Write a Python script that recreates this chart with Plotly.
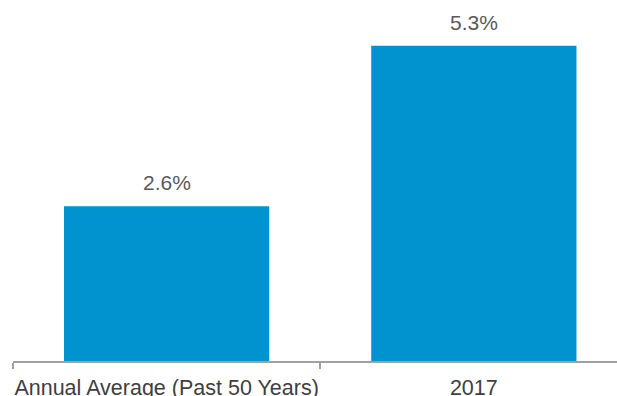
import plotly.graph_objects as go

categories = ["Annual Average (Past 50 Years)", "2017"]
values = [2.6, 5.3]
value_labels = ["2.6%", "5.3%"]

BAR_COLOR = "#0093D0"
AXIS_COLOR = "#a0a0a0"
TEXT_COLOR = "#404040"
FONT = "Liberation Sans, Arial, sans-serif"

fig = go.Figure()
fig.add_trace(go.Bar(
    x=categories,
    y=values,
    marker=dict(color=BAR_COLOR, line=dict(width=0)),
    hoverinfo="skip",
))

for i, (v, t) in enumerate(zip(values, value_labels)):
    fig.add_annotation(
        x=i, y=v, xref="x", yref="y", text=t, showarrow=False,
        yanchor="bottom", yshift=10,
        font=dict(family=FONT, size=21, color="#595959"),
    )

fig.update_layout(
    width=617, height=396,
    margin=dict(l=13, r=0, t=0, b=35, autoexpand=False),
    paper_bgcolor="white", plot_bgcolor="white",
    bargap=0.332,
    showlegend=False,
    font=dict(family=FONT, size=21, color=TEXT_COLOR),
)
fig.update_xaxes(
    type="category",
    range=[-0.5, 1.466],
    showline=True, linecolor=AXIS_COLOR, linewidth=1.5,
    ticks="outside", tickson="boundaries", ticklen=6, tickcolor=AXIS_COLOR, tickwidth=1.5,
    ticklabelstandoff=6, tickangle=0, automargin=False,
    showgrid=False, zeroline=False,
    tickfont=dict(family=FONT, size=21.5, color=TEXT_COLOR),
)
fig.update_yaxes(
    range=[0, 6.07],
    visible=False, showgrid=False, zeroline=False, automargin=False,
)

fig.write_html(
    "out.html",
    config={"displayModeBar": False},
    post_script="document.body.style.margin='0';document.body.style.overflow='hidden';",
)
